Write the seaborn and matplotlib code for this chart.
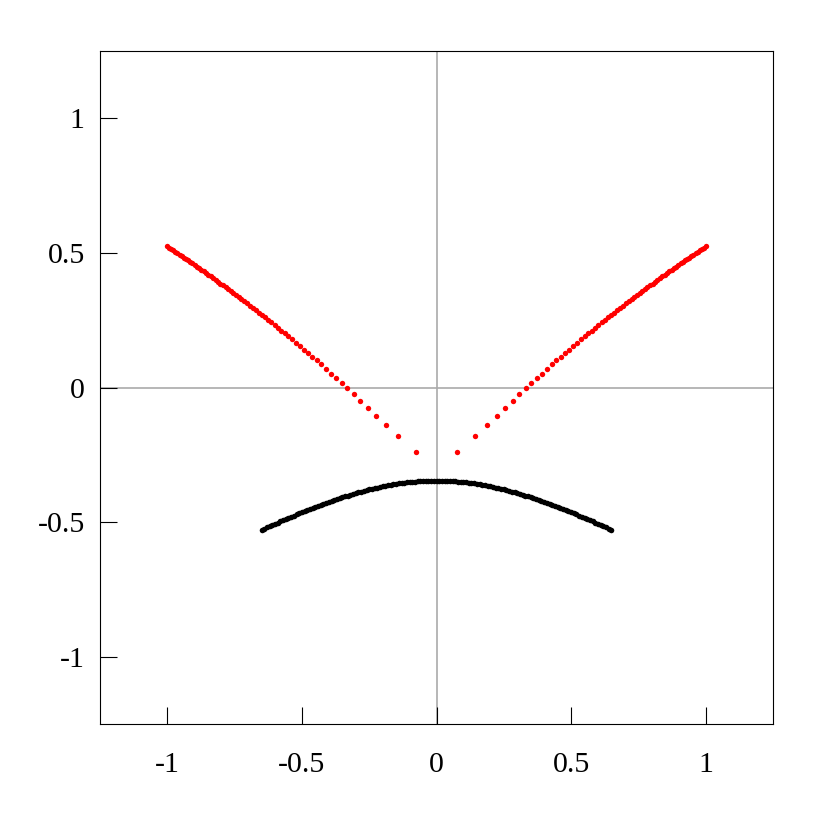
import matplotlib
matplotlib.use("Agg")
import matplotlib.pyplot as plt
import seaborn as sns
import pandas as pd

# ---- data ----
red_right_x = [0.0755, 0.1432, 0.1881, 0.2241, 0.2551, 0.2827, 0.3078, 0.3310, 0.3527, 0.3732,
               0.3926, 0.4110, 0.4287, 0.4457, 0.4620, 0.4778, 0.4931, 0.5079, 0.5223, 0.5364,
               0.5500, 0.5633, 0.5764, 0.5891, 0.6016, 0.6138, 0.6257, 0.6375, 0.6490, 0.6604,
               0.6715, 0.6824, 0.6932, 0.7038, 0.7144, 0.7246, 0.7348, 0.7449, 0.7547, 0.7645,
               0.7741, 0.7836, 0.7931, 0.8024, 0.8116, 0.8207, 0.8296, 0.8386, 0.8473, 0.8561,
               0.8647, 0.8732, 0.8817, 0.8901, 0.8984, 0.9066, 0.9147, 0.9228, 0.9308, 0.9388,
               0.9466, 0.9544, 0.9622, 0.9698, 0.9775, 0.9850, 0.9925, 1.0000]
red_left_x = [-0.0755, -0.1432, -0.1881, -0.2241, -0.2551, -0.2827, -0.3078, -0.3310, -0.3527, -0.3732,
              -0.3926, -0.4110, -0.4287, -0.4457, -0.4620, -0.4778, -0.4931, -0.5079, -0.5223, -0.5364,
              -0.5500, -0.5633, -0.5764, -0.5891, -0.6016, -0.6138, -0.6257, -0.6375, -0.6490, -0.6604,
              -0.6715, -0.6824, -0.6932, -0.7038, -0.7144, -0.7246, -0.7348, -0.7449, -0.7547, -0.7645,
              -0.7741, -0.7836, -0.7931, -0.8024, -0.8116, -0.8207, -0.8296, -0.8386, -0.8473, -0.8561,
              -0.8647, -0.8732, -0.8817, -0.8901, -0.8984, -0.9066, -0.9147, -0.9228, -0.9308, -0.9388,
              -0.9466, -0.9544, -0.9622, -0.9698, -0.9775, -0.9850, -0.9925, -1.0000]
red_y = [-0.2405, -0.182, -0.140, -0.105, -0.0755, -0.049, -0.026, -0.0037, 0.016, 0.0346,
         0.052, 0.069, 0.0855, 0.1005, 0.114, 0.128, 0.141, 0.155, 0.1670, 0.1787,
         0.1900, 0.2008, 0.2115, 0.2219, 0.2319, 0.2417, 0.2512, 0.2605, 0.2696, 0.2786,
         0.2873, 0.2957, 0.3041, 0.3122, 0.3203, 0.3281, 0.3359, 0.3435, 0.3508, 0.3582,
         0.3653, 0.3723, 0.3794, 0.3863, 0.3929, 0.3996, 0.4060, 0.4125, 0.4187, 0.4251,
         0.4311, 0.4372, 0.4432, 0.4491, 0.4549, 0.4607, 0.4663, 0.4719, 0.4774, 0.4828,
         0.4882, 0.4935, 0.4988, 0.5039, 0.5091, 0.5141, 0.5191, 0.5241]

black_x = [-0.65, -0.64, -0.63, -0.62, -0.61, -0.60, -0.59, -0.58, -0.57, -0.56,
           -0.55, -0.54, -0.53, -0.52, -0.51, -0.50, -0.49, -0.48, -0.47, -0.46,
           -0.45, -0.44, -0.43, -0.42, -0.41, -0.40, -0.39, -0.38, -0.37, -0.36,
           -0.35, -0.34, -0.33, -0.32, -0.31, -0.30, -0.29, -0.28, -0.27, -0.26,
           -0.25, -0.24, -0.23, -0.22, -0.21, -0.20, -0.19, -0.18, -0.17, -0.16,
           -0.15, -0.14, -0.13, -0.12, -0.11, -0.10, -0.09, -0.08, -0.07, -0.06,
           -0.05, -0.04, -0.03, -0.02, -0.01, 0.00,
           0.01, 0.02, 0.03, 0.04, 0.05, 0.06, 0.07, 0.08, 0.09, 0.10,
           0.11, 0.12, 0.13, 0.14, 0.15, 0.16, 0.17, 0.18, 0.19, 0.20,
           0.21, 0.22, 0.23, 0.24, 0.25, 0.26, 0.27, 0.28, 0.29, 0.30,
           0.31, 0.32, 0.33, 0.34, 0.35, 0.36, 0.37, 0.38, 0.39, 0.40,
           0.41, 0.42, 0.43, 0.44, 0.45, 0.46, 0.47, 0.48, 0.49, 0.50,
           0.51, 0.52, 0.53, 0.54, 0.55, 0.56, 0.57, 0.58, 0.59, 0.60,
           0.61, 0.62, 0.63, 0.64, 0.65]
black_y = [-0.5290, -0.5243, -0.5197, -0.5152, -0.5106, -0.5061, -0.5016, -0.4972, -0.4928, -0.4884,
           -0.4841, -0.4798, -0.4756, -0.4714, -0.4672, -0.4631, -0.4590, -0.4550, -0.4510, -0.4471,
           -0.4432, -0.4394, -0.4356, -0.4319, -0.4283, -0.4247, -0.4211, -0.4177, -0.4142, -0.4109,
           -0.4076, -0.4044, -0.4012, -0.3981, -0.3951, -0.3922, -0.3893, -0.3865, -0.3838, -0.3812,
           -0.3787, -0.3762, -0.3738, -0.3715, -0.3693, -0.3672, -0.3652, -0.3633, -0.3615, -0.3597,
           -0.3581, -0.3566, -0.3551, -0.3538, -0.3525, -0.3514, -0.3504, -0.3495, -0.3487, -0.3479,
           -0.3474, -0.3469, -0.3465, -0.3462, -0.3461, -0.3460,
           -0.3461, -0.3462, -0.3465, -0.3469, -0.3474, -0.3479, -0.3487, -0.3495, -0.3504, -0.3514,
           -0.3525, -0.3538, -0.3551, -0.3566, -0.3581, -0.3597, -0.3615, -0.3633, -0.3652, -0.3672,
           -0.3693, -0.3715, -0.3738, -0.3762, -0.3787, -0.3812, -0.3838, -0.3865, -0.3893, -0.3922,
           -0.3951, -0.3981, -0.4012, -0.4044, -0.4076, -0.4109, -0.4142, -0.4177, -0.4211, -0.4247,
           -0.4283, -0.4319, -0.4356, -0.4394, -0.4432, -0.4471, -0.4510, -0.4550, -0.4590, -0.4631,
           -0.4672, -0.4714, -0.4756, -0.4798, -0.4841, -0.4884, -0.4928, -0.4972, -0.5016, -0.5061,
           -0.5106, -0.5152, -0.5197, -0.5243, -0.5290]

tick_values = [-1, -0.5, 0, 0.5, 1]
tick_labels = ["-1", "-0.5", "0", "0.5", "1"]

# ---- style ----
sns.set_style("ticks")
plt.rcParams["font.family"] = ["Liberation Serif", "DejaVu Serif"]

fig = plt.figure(figsize=(8.17, 8.17), dpi=100)
ax = fig.add_axes([100 / 817, 1 - 724 / 817, 673 / 817, 673 / 817])

ax.axhline(0, color="#aaaaaa", lw=1.2, zorder=0)
ax.axvline(0, color="#aaaaaa", lw=1.2, zorder=0)

red_df = pd.DataFrame({"x": red_left_x + red_right_x, "y": red_y + red_y})
black_df = pd.DataFrame({"x": black_x, "y": black_y})

sns.scatterplot(data=red_df, x="x", y="y", color="#ff0000", s=15, linewidth=0, ax=ax, zorder=3)
sns.scatterplot(data=black_df, x="x", y="y", color="#000000", s=16, linewidth=0, ax=ax, zorder=3)

ax.set_xlim(-1.25, 1.25)
ax.set_ylim(-1.25, 1.25)
ax.set_xticks(tick_values)
ax.set_xticklabels(tick_labels)
ax.set_yticks(tick_values)
ax.set_yticklabels(tick_labels)
ax.set_xlabel("")
ax.set_ylabel("")

ax.tick_params(axis="both", direction="in", length=12, width=0.8, color="black",
               labelsize=21.5, labelcolor="black")
ax.tick_params(axis="x", pad=20)
ax.tick_params(axis="y", pad=11)
for sp in ax.spines.values():
    sp.set_visible(True)
    sp.set_color("black")
    sp.set_linewidth(0.8)

fig.savefig("out.png", dpi=100, facecolor="white")
